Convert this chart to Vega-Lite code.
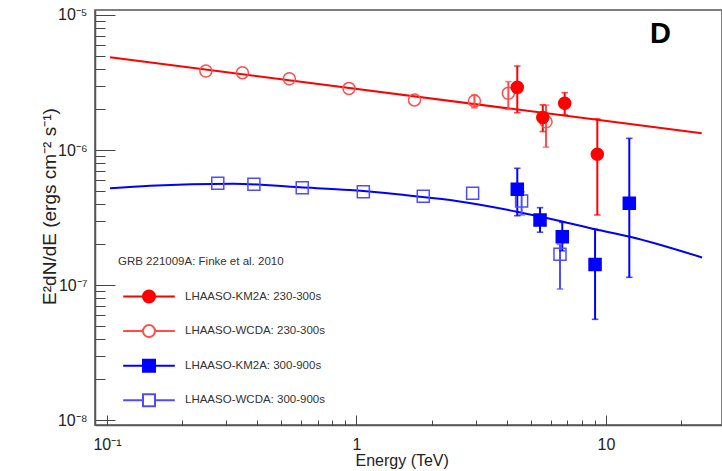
{
  "$schema": "https://vega.github.io/schema/vega-lite/v6.json",
  "width": 627,
  "height": 415,
  "autosize": {"type": "none"},
  "padding": {"left": 95, "top": 10, "right": 0, "bottom": 46},
  "background": "white",
  "config": {
    "font": "Liberation Sans",
    "view": {"stroke": "#555", "strokeWidth": 1.5},
    "legend": {
      "orient": "none",
      "direction": "vertical",
      "legendX": 23,
      "legendY": 246,
      "padding": 0,
      "titleFont": "Liberation Sans",
      "titleFontSize": 11.5,
      "titleFontWeight": "normal",
      "titleColor": "#333",
      "titleLimit": 400,
      "titlePadding": 22,
      "labelFont": "Liberation Sans",
      "labelFontSize": 11.5,
      "labelColor": "#333",
      "labelLimit": 400,
      "labelOffset": 29,
      "symbolSize": 144,
      "symbolStrokeWidth": 2,
      "symbolOpacity": 1,
      "symbolOffset": 24,
      "rowPadding": 14.6
    }
  },
  "title": {
    "text": "D",
    "anchor": "end",
    "frame": "group",
    "orient": "top",
    "offset": 0,
    "fontSize": 29,
    "fontWeight": "bold",
    "color": "#000",
    "font": "Liberation Sans",
    "baseline": "alphabetic",
    "dx": -51,
    "dy": 65
  },
  "resolve": {"axis": {"x": "independent", "y": "independent"}},
  "datasets": {
    "fits": [
      {"curve": "red", "E": 0.1028, "v": 4.87e-6},
      {"curve": "red", "E": 24.2, "v": 1.33e-6},
      {"curve": "blue", "E": 0.1028, "v": 5.20e-7},
      {"curve": "blue", "E": 0.1487, "v": 5.44e-7},
      {"curve": "blue", "E": 0.3198, "v": 5.63e-7},
      {"curve": "blue", "E": 0.5935, "v": 5.29e-7},
      {"curve": "blue", "E": 0.9418, "v": 5.05e-7},
      {"curve": "blue", "E": 1.494, "v": 4.68e-7},
      {"curve": "blue", "E": 2.37, "v": 4.26e-7},
      {"curve": "blue", "E": 4.398, "v": 3.49e-7},
      {"curve": "blue", "E": 6.541, "v": 2.98e-7},
      {"curve": "blue", "E": 9.035, "v": 2.59e-7},
      {"curve": "blue", "E": 12.48, "v": 2.28e-7},
      {"curve": "blue", "E": 24.26, "v": 1.60e-7}
    ],
    "points": [
      {"s": "LHAASO-WCDA: 230-300s", "per": "230-300s", "E": 0.249, "v": 3.85e-6, "lo": null, "hi": null},
      {"s": "LHAASO-WCDA: 230-300s", "per": "230-300s", "E": 0.349, "v": 3.74e-6, "lo": null, "hi": null},
      {"s": "LHAASO-WCDA: 230-300s", "per": "230-300s", "E": 0.538, "v": 3.37e-6, "lo": null, "hi": null},
      {"s": "LHAASO-WCDA: 230-300s", "per": "230-300s", "E": 0.933, "v": 2.86e-6, "lo": null, "hi": null},
      {"s": "LHAASO-WCDA: 230-300s", "per": "230-300s", "E": 1.708, "v": 2.35e-6, "lo": null, "hi": null},
      {"s": "LHAASO-WCDA: 230-300s", "per": "230-300s", "E": 2.97, "v": 2.31e-6, "lo": 2.05e-6, "hi": 2.56e-6},
      {"s": "LHAASO-WCDA: 230-300s", "per": "230-300s", "E": 4.06, "v": 2.63e-6, "lo": 2.0e-6, "hi": 3.21e-6},
      {"s": "LHAASO-WCDA: 230-300s", "per": "230-300s", "E": 5.75, "v": 1.62e-6, "lo": 1.05e-6, "hi": 2.15e-6},
      {"s": "LHAASO-WCDA: 300-900s", "per": "300-900s", "E": 0.278, "v": 5.67e-7, "lo": null, "hi": null},
      {"s": "LHAASO-WCDA: 300-900s", "per": "300-900s", "E": 0.388, "v": 5.57e-7, "lo": null, "hi": null},
      {"s": "LHAASO-WCDA: 300-900s", "per": "300-900s", "E": 0.606, "v": 5.26e-7, "lo": null, "hi": null},
      {"s": "LHAASO-WCDA: 300-900s", "per": "300-900s", "E": 1.065, "v": 4.91e-7, "lo": null, "hi": null},
      {"s": "LHAASO-WCDA: 300-900s", "per": "300-900s", "E": 1.852, "v": 4.54e-7, "lo": null, "hi": null},
      {"s": "LHAASO-WCDA: 300-900s", "per": "300-900s", "E": 2.92, "v": 4.78e-7, "lo": null, "hi": null},
      {"s": "LHAASO-WCDA: 300-900s", "per": "300-900s", "E": 4.59, "v": 4.19e-7, "lo": 3.30e-7, "hi": 4.9e-7},
      {"s": "LHAASO-WCDA: 300-900s", "per": "300-900s", "E": 6.54, "v": 1.69e-7, "lo": 9.34e-8, "hi": 2.0e-7},
      {"s": "LHAASO-KM2A: 230-300s", "per": "230-300s", "E": 4.41, "v": 2.91e-6, "lo": 1.89e-6, "hi": 4.19e-6},
      {"s": "LHAASO-KM2A: 230-300s", "per": "230-300s", "E": 5.58, "v": 1.74e-6, "lo": 1.37e-6, "hi": 2.16e-6},
      {"s": "LHAASO-KM2A: 230-300s", "per": "230-300s", "E": 6.83, "v": 2.22e-6, "lo": 1.82e-6, "hi": 2.66e-6},
      {"s": "LHAASO-KM2A: 230-300s", "per": "230-300s", "E": 9.23, "v": 9.3e-7, "lo": 3.3e-7, "hi": 1.70e-6},
      {"s": "LHAASO-KM2A: 300-900s", "per": "300-900s", "E": 4.41, "v": 5.11e-7, "lo": 3.26e-7, "hi": 7.32e-7},
      {"s": "LHAASO-KM2A: 300-900s", "per": "300-900s", "E": 5.44, "v": 3.03e-7, "lo": 2.46e-7, "hi": 3.74e-7},
      {"s": "LHAASO-KM2A: 300-900s", "per": "300-900s", "E": 6.68, "v": 2.28e-7, "lo": 1.79e-7, "hi": 2.91e-7},
      {"s": "LHAASO-KM2A: 300-900s", "per": "300-900s", "E": 9.04, "v": 1.42e-7, "lo": 5.57e-8, "hi": 2.59e-7},
      {"s": "LHAASO-KM2A: 300-900s", "per": "300-900s", "E": 12.4, "v": 4.03e-7, "lo": 1.14e-7, "hi": 1.22e-6}
    ]
  },
  "layer": [
    {
      "data": {"name": "fits"},
      "transform": [{"filter": "datum.curve == 'red'"}],
      "mark": {"type": "line", "color": "#ff0000", "strokeWidth": 2},
      "encoding": {
        "x": {
          "field": "E", "type": "quantitative",
          "scale": {"type": "log", "domain": [0.08952, 29.17], "nice": false},
          "axis": {
            "orient": "bottom",
            "values": [0.1, 1, 10],
            "labelExpr": "datum.value < 0.5 ? '10⁻¹' : (datum.value < 5 ? '1' : '10')",
            "tickSize": -10,
            "tickColor": "#444",
            "tickWidth": 1,
            "domainColor": "#555",
            "domainWidth": 1.5,
            "grid": false,
            "labelOverlap": false,
            "labelFlush": false,
            "labelFont": "Liberation Sans",
            "labelFontSize": 16,
            "labelColor": "#222",
            "labelPadding": 21,
            "title": "Energy (TeV)",
            "titleFont": "Liberation Sans",
            "titleFontSize": 16,
            "titleFontWeight": "normal",
            "titleColor": "#222",
            "titleX": 260,
            "titleY": 40,
            "titleAlign": "left",
            "titleBaseline": "alphabetic"
          }
        },
        "y": {
          "field": "v", "type": "quantitative",
          "scale": {"type": "log", "domain": [9.183e-9, 1.089e-5], "nice": false},
          "axis": {
            "orient": "left",
            "values": [1e-8, 1e-7, 1e-6, 1e-5],
            "labelExpr": "datum.value > 5e-6 ? '10⁻⁵' : (datum.value > 5e-7 ? '10⁻⁶' : (datum.value > 5e-8 ? '10⁻⁷' : '10⁻⁸'))",
            "tickSize": -20,
            "tickColor": "#444",
            "tickWidth": 1,
            "domainColor": "#555",
            "domainWidth": 1.5,
            "grid": false,
            "labelOverlap": false,
            "labelFlush": false,
            "labelFont": "Liberation Sans",
            "labelFontSize": 16,
            "labelColor": "#222",
            "labelPadding": 28,
            "labelBaseline": "middle",
            "title": "E²dN/dE (ergs cm⁻² s⁻¹)",
            "titleFont": "Liberation Sans",
            "titleFontSize": 19,
            "titleFontWeight": "normal",
            "titleColor": "#222",
            "titleX": -46,
            "titleY": 196,
            "titleAngle": 270,
            "titleAlign": "center",
            "titleBaseline": "middle"
          }
        }
      }
    },
    {
      "data": {"name": "fits"},
      "transform": [{"filter": "datum.curve == 'blue'"}],
      "mark": {"type": "line", "color": "#0000ff", "strokeWidth": 2, "interpolate": "monotone"},
      "encoding": {
        "x": {"field": "E", "type": "quantitative", "scale": {"type": "log", "domain": [0.08952, 29.17], "nice": false},
          "axis": {
            "orient": "bottom",
            "values": [0.2, 0.3, 0.4, 0.5, 0.6, 0.7, 0.8, 0.9, 2, 3, 4, 5, 6, 7, 8, 9, 20],
            "labels": false,
            "domain": false,
            "grid": false,
            "title": null,
            "tickSize": -5,
            "tickColor": "#444",
            "tickWidth": 1
          }},
        "y": {"field": "v", "type": "quantitative", "scale": {"type": "log", "domain": [9.183e-9, 1.089e-5], "nice": false},
          "axis": {
            "orient": "left",
            "values": [2e-8, 3e-8, 4e-8, 5e-8, 6e-8, 7e-8, 8e-8, 9e-8, 2e-7, 3e-7, 4e-7, 5e-7, 6e-7, 7e-7, 8e-7, 9e-7, 2e-6, 3e-6, 4e-6, 5e-6, 6e-6, 7e-6, 8e-6, 9e-6],
            "labels": false,
            "domain": false,
            "grid": false,
            "title": null,
            "tickSize": -10,
            "tickColor": "#444",
            "tickWidth": 1
          }}
      }
    },
    {
      "data": {"name": "points"},
      "transform": [{"filter": "datum.lo != null"}],
      "mark": {"type": "rule", "strokeWidth": 2},
      "encoding": {
        "x": {"field": "E", "type": "quantitative", "scale": {"type": "log", "domain": [0.08952, 29.17], "nice": false}, "axis": null},
        "y": {"field": "lo", "type": "quantitative", "scale": {"type": "log", "domain": [9.183e-9, 1.089e-5], "nice": false}, "axis": null},
        "y2": {"field": "hi"},
        "stroke": {"field": "s", "type": "nominal",
          "legend": {"title": "GRB 221009A: Finke et al. 2010", "encoding": {"symbols": {"shape": {"value": {"expr": "indexof(datum.value, '230') >= 0 ? 'M-4.3,0H-1M1,0H4.3M-1,0A1,1 0 1,0 1,0A1,1 0 1,0 -1,0Z' : 'M-4.3,0H-1M1,0H4.3M-1,-1H1V1H-1Z'"}}}}},
          "scale": {"domain": ["LHAASO-KM2A: 230-300s", "LHAASO-WCDA: 230-300s", "LHAASO-KM2A: 300-900s", "LHAASO-WCDA: 300-900s"], "range": ["#ff0000", "#ff4d4d", "#0000ff", "#4d4dff"]}}
      }
    },
    {
      "data": {"name": "points"},
      "transform": [{"filter": "datum.lo != null"}],
      "mark": {"type": "tick", "orient": "horizontal", "size": 5, "thickness": 0.1, "filled": false, "strokeWidth": 1.5},
      "encoding": {
        "x": {"field": "E", "type": "quantitative", "scale": {"type": "log", "domain": [0.08952, 29.17], "nice": false}, "axis": null},
        "y": {"field": "lo", "type": "quantitative", "scale": {"type": "log", "domain": [9.183e-9, 1.089e-5], "nice": false}, "axis": null},
        "stroke": {"field": "s", "type": "nominal",
          "legend": {"title": "GRB 221009A: Finke et al. 2010", "encoding": {"symbols": {"shape": {"value": {"expr": "indexof(datum.value, '230') >= 0 ? 'M-4.3,0H-1M1,0H4.3M-1,0A1,1 0 1,0 1,0A1,1 0 1,0 -1,0Z' : 'M-4.3,0H-1M1,0H4.3M-1,-1H1V1H-1Z'"}}}}},
          "scale": {"domain": ["LHAASO-KM2A: 230-300s", "LHAASO-WCDA: 230-300s", "LHAASO-KM2A: 300-900s", "LHAASO-WCDA: 300-900s"], "range": ["#ff0000", "#ff4d4d", "#0000ff", "#4d4dff"]}}
      }
    },
    {
      "data": {"name": "points"},
      "transform": [{"filter": "datum.hi != null"}],
      "mark": {"type": "tick", "orient": "horizontal", "size": 5, "thickness": 0.1, "filled": false, "strokeWidth": 1.5},
      "encoding": {
        "x": {"field": "E", "type": "quantitative", "scale": {"type": "log", "domain": [0.08952, 29.17], "nice": false}, "axis": null},
        "y": {"field": "hi", "type": "quantitative", "scale": {"type": "log", "domain": [9.183e-9, 1.089e-5], "nice": false}, "axis": null},
        "stroke": {"field": "s", "type": "nominal",
          "legend": {"title": "GRB 221009A: Finke et al. 2010", "encoding": {"symbols": {"shape": {"value": {"expr": "indexof(datum.value, '230') >= 0 ? 'M-4.3,0H-1M1,0H4.3M-1,0A1,1 0 1,0 1,0A1,1 0 1,0 -1,0Z' : 'M-4.3,0H-1M1,0H4.3M-1,-1H1V1H-1Z'"}}}}},
          "scale": {"domain": ["LHAASO-KM2A: 230-300s", "LHAASO-WCDA: 230-300s", "LHAASO-KM2A: 300-900s", "LHAASO-WCDA: 300-900s"], "range": ["#ff0000", "#ff4d4d", "#0000ff", "#4d4dff"]}}
      }
    },
    {
      "data": {"name": "points"},
      "mark": {"type": "point", "size": 144, "strokeWidth": 1.5, "opacity": 1},
      "encoding": {
        "x": {"field": "E", "type": "quantitative", "scale": {"type": "log", "domain": [0.08952, 29.17], "nice": false}, "axis": null},
        "y": {"field": "v", "type": "quantitative", "scale": {"type": "log", "domain": [9.183e-9, 1.089e-5], "nice": false}, "axis": null},
        "stroke": {"field": "s", "type": "nominal",
          "scale": {"domain": ["LHAASO-KM2A: 230-300s", "LHAASO-WCDA: 230-300s", "LHAASO-KM2A: 300-900s", "LHAASO-WCDA: 300-900s"], "range": ["#ff0000", "#ff4d4d", "#0000ff", "#4d4dff"]},
          "legend": {"title": "GRB 221009A: Finke et al. 2010", "encoding": {"symbols": {"shape": {"value": {"expr": "indexof(datum.value, '230') >= 0 ? 'M-4.3,0H-1M1,0H4.3M-1,0A1,1 0 1,0 1,0A1,1 0 1,0 -1,0Z' : 'M-4.3,0H-1M1,0H4.3M-1,-1H1V1H-1Z'"}}}}}},
        "shape": {"field": "per", "type": "nominal",
          "scale": {"domain": ["230-300s", "300-900s"], "range": ["circle", "square"]},
          "legend": null},
        "fill": {"field": "s", "type": "nominal",
          "scale": {"domain": ["LHAASO-KM2A: 230-300s", "LHAASO-WCDA: 230-300s", "LHAASO-KM2A: 300-900s", "LHAASO-WCDA: 300-900s"], "range": ["#ff0000", "transparent", "#0000ff", "transparent"]},
          "legend": {"title": "GRB 221009A: Finke et al. 2010", "encoding": {"symbols": {"shape": {"value": {"expr": "indexof(datum.value, '230') >= 0 ? 'M-4.3,0H-1M1,0H4.3M-1,0A1,1 0 1,0 1,0A1,1 0 1,0 -1,0Z' : 'M-4.3,0H-1M1,0H4.3M-1,-1H1V1H-1Z'"}}}}}}
      }
    }
  ]
}
